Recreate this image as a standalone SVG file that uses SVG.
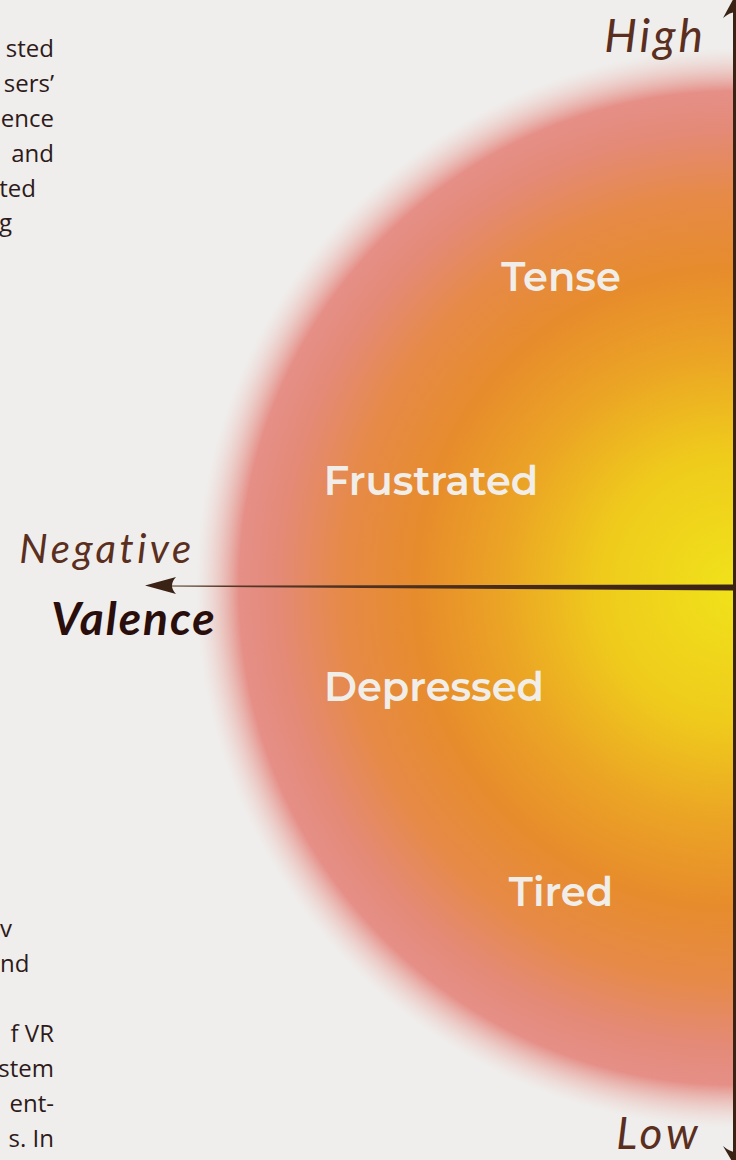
<svg xmlns="http://www.w3.org/2000/svg" width="736" height="1160" viewBox="0 0 736 1160">
  <defs>
    <radialGradient id="glow" cx="736" cy="588" r="540" gradientUnits="userSpaceOnUse">
      <stop offset="0" stop-color="#f0e21a"/>
      <stop offset="0.25" stop-color="#efcb1c"/>
      <stop offset="0.44" stop-color="#eba325"/>
      <stop offset="0.59" stop-color="#e78c2c"/>
      <stop offset="0.73" stop-color="#e68a48"/>
      <stop offset="0.85" stop-color="#e48a78"/>
      <stop offset="0.92" stop-color="#e58f87"/>
      <stop offset="1" stop-color="#ecc9c4" stop-opacity="0"/>
    </radialGradient>
    <linearGradient id="hline" x1="150" y1="0" x2="736" y2="0" gradientUnits="userSpaceOnUse">
      <stop offset="0" stop-color="#5a3a28"/>
      <stop offset="1" stop-color="#3a2214"/>
    </linearGradient>
  </defs>
  <style>
    .body { font-family: "Open Sans", "Noto Sans", sans-serif; font-size: 24px; font-weight: 400; fill: #2e1a1a; }
    .label { font-family: "Montserrat", "Open Sans", "Noto Sans", sans-serif; font-weight: 600; font-size: 40px; fill: #f1eee9; text-anchor: middle; }
    .axis { font-family: "Lato", "Noto Sans", sans-serif; font-style: italic; fill: #5b2f20; text-anchor: middle; }
    .axisTitle { font-family: "Lato", "Noto Sans", sans-serif; font-style: italic; font-weight: 700; fill: #2a0e0c; text-anchor: middle; }
    .arrow { fill: #3a2214; }
  </style>

  <rect x="0" y="0" width="736" height="1160" fill="#efeeec"/>

  <g id="backdrop">
    <circle cx="736" cy="588" r="540" fill="url(#glow)"/>
  </g>

  <g id="body-text-top" class="body">
    <text x="54" y="57" text-anchor="end">sted</text>
    <text x="54" y="92" text-anchor="end">sers’</text>
    <text x="54" y="127" text-anchor="end">ence</text>
    <text x="54" y="162" text-anchor="end">and</text>
    <text x="36" y="197" text-anchor="end">ted</text>
    <text x="12" y="231" text-anchor="end">g</text>
  </g>

  <g id="body-text-bottom" class="body">
    <text x="0" y="937">v</text>
    <text x="0" y="972">nd</text>
    <text x="54" y="1042" text-anchor="end">f VR</text>
    <text x="54" y="1077" text-anchor="end">stem</text>
    <text x="54" y="1112" text-anchor="end">ent-</text>
    <text x="54" y="1147" text-anchor="end">s.  In</text>
  </g>

  <g id="connectors">
    <rect x="733" y="8" width="3" height="1146" fill="#3a2214"/>
    <path d="M736,-6 L723,18 Q730,12 736,12 Z" class="arrow"/>
    <path d="M736,1168 L723,1146 Q730,1152 736,1152 Z" class="arrow"/>
    <path d="M168,585.6 L736,584.5 L736,590.5 L168,586.6 Z" fill="url(#hline)"/>
    <path d="M145,585.5 L176,577 Q168,585.5 176,594 Z" class="arrow"/>
  </g>

  <g id="node-tense"><text class="label" x="561" y="291">Tense</text></g>
  <g id="node-frustrated"><text class="label" x="431" y="495">Frustrated</text></g>
  <g id="node-depressed"><text class="label" x="434" y="701">Depressed</text></g>
  <g id="node-tired"><text class="label" x="561" y="906">Tired</text></g>

  <g id="axis-high"><text class="axis" x="655" y="52" font-size="46" letter-spacing="3">High</text></g>
  <g id="axis-low"><text class="axis" x="659" y="1149" font-size="44" letter-spacing="4">Low</text></g>
  <g id="axis-negative"><text class="axis" x="107" y="563" font-size="40" letter-spacing="3.5">Negative</text></g>
  <g id="axis-valence"><text class="axisTitle" x="134" y="635" font-size="46" letter-spacing="2">Valence</text></g>
</svg>
